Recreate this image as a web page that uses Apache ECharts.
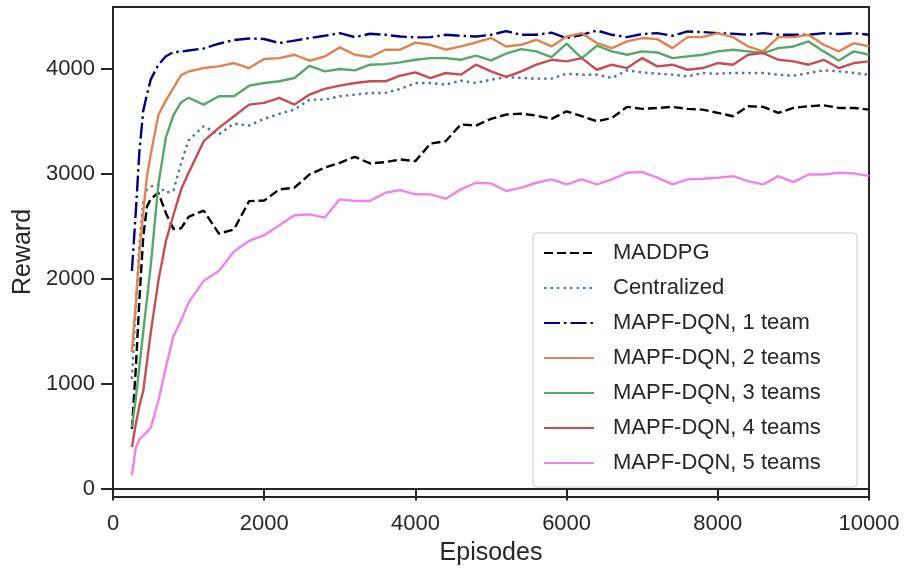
<!DOCTYPE html>
<html>
<head>
<meta charset="utf-8">
<script src="https://cdn.jsdelivr.net/npm/echarts@6/dist/echarts.min.js"></script>
<style>
  html, body { margin: 0; padding: 0; background: #fff; }
  #chart { width: 911px; height: 571px; }
</style>
</head>
<body>
<div id="chart"></div>
<script>
// episode positions shared by every curve
var episodes = [250, 300, 350, 400, 450, 500, 600, 700, 800, 900, 1000,
  1200, 1400, 1600, 1800, 2000, 2200, 2400, 2600, 2800, 3000,
  3200, 3400, 3600, 3800, 4000, 4200, 4400, 4600, 4800, 5000,
  5200, 5400, 5600, 5800, 6000, 6200, 6400, 6600, 6800, 7000,
  7200, 7400, 7600, 7800, 8000, 8200, 8400, 8600, 8800, 9000,
  9200, 9400, 9600, 9800, 10000];

var maddpg = [570, 1125, 1810, 2400, 2690, 2760, 2820, 2625, 2475, 2480, 2590,
  2650, 2430, 2470, 2740, 2745, 2852, 2868, 2994, 3058, 3105,
  3162, 3099, 3111, 3137, 3121, 3289, 3311, 3470, 3460, 3524,
  3565, 3574, 3555, 3524, 3596, 3549, 3501, 3533, 3638, 3619,
  3628, 3638, 3619, 3612, 3581, 3549, 3644, 3638, 3581, 3628,
  3644, 3653, 3628, 3628, 3612];

var centralized = [1046, 1710, 2325, 2730, 2850, 2880, 2890, 2820, 2840, 3100, 3320,
  3454, 3375, 3479, 3460, 3524, 3571, 3612, 3707, 3707, 3739,
  3755, 3771, 3771, 3809, 3866, 3866, 3850, 3888, 3866, 3897,
  3923, 3913, 3907, 3907, 3954, 3945, 3945, 3913, 3986, 3967,
  3954, 3945, 3929, 3961, 3954, 3961, 3961, 3961, 3945, 3935,
  3961, 3986, 3977, 3961, 3945];

var team1 = [2075, 2620, 3220, 3600, 3760, 3900, 4040, 4120, 4160, 4165, 4175,
  4195, 4240, 4275, 4290, 4285, 4246, 4270, 4294, 4316, 4341,
  4303, 4335, 4325, 4309, 4300, 4303, 4325, 4316, 4309, 4325,
  4360, 4325, 4325, 4345, 4294, 4325, 4366, 4325, 4303, 4332,
  4341, 4316, 4357, 4351, 4341, 4335, 4325, 4341, 4325, 4325,
  4325, 4341, 4332, 4341, 4325];

var team2 = [1300, 1750, 2250, 2640, 2978, 3190, 3560, 3700, 3820, 3940, 3975,
  4008, 4024, 4056, 4008, 4094, 4103, 4135, 4078, 4119, 4205,
  4135, 4113, 4183, 4183, 4250, 4230, 4183, 4214, 4252, 4294,
  4214, 4230, 4278, 4214, 4309, 4341, 4246, 4198, 4262, 4294,
  4284, 4198, 4303, 4303, 4341, 4303, 4214, 4167, 4303, 4303,
  4325, 4230, 4167, 4246, 4214];

var team3 = [586, 850, 1170, 1495, 1810, 2130, 2900, 3350, 3560, 3680, 3725,
  3660, 3739, 3739, 3840, 3866, 3882, 3913, 4030, 3977, 3999,
  3986, 4040, 4046, 4062, 4087, 4103, 4103, 4087, 4126, 4081,
  4145, 4189, 4167, 4113, 4240, 4103, 4221, 4167, 4135, 4167,
  4157, 4103, 4119, 4135, 4167, 4183, 4167, 4151, 4198, 4214,
  4262, 4167, 4081, 4167, 4135];

var team4 = [396, 610, 793, 930, 1210, 1490, 1980, 2360, 2610, 2850, 3010,
  3311, 3438, 3549, 3660, 3676, 3723, 3660, 3755, 3809, 3840,
  3866, 3882, 3882, 3935, 3967, 3913, 3961, 3945, 4040, 3977,
  3923, 3977, 4040, 4087, 4072, 4103, 3992, 4040, 4008, 4103,
  4024, 4040, 3992, 4008, 4056, 4040, 4135, 4151, 4087, 4072,
  4040, 4087, 4008, 4056, 4072];

var team5 = [127, 385, 470, 505, 540, 583, 835, 1162, 1453, 1600, 1775,
  1980, 2073, 2260, 2360, 2415, 2510, 2605, 2614, 2582, 2757,
  2741, 2741, 2820, 2845, 2805, 2804, 2763, 2852, 2915, 2909,
  2836, 2868, 2915, 2947, 2899, 2947, 2899, 2947, 3010, 3016,
  2963, 2899, 2947, 2953, 2963, 2978, 2931, 2899, 2978, 2921,
  2994, 2994, 3010, 3004, 2978];

var seriesNames = ['MADDPG', 'Centralized', 'MAPF-DQN, 1 team', 'MAPF-DQN, 2 teams',
  'MAPF-DQN, 3 teams', 'MAPF-DQN, 4 teams', 'MAPF-DQN, 5 teams'];

var xTicks = [0, 2000, 4000, 6000, 8000, 10000];
var yTicks = [0, 1000, 2000, 3000, 4000];

var FONT = "'Liberation Sans', Arial, sans-serif";
var INK = '#262626';

function pairs(vals) {
  return episodes.map(function (e, i) { return [e, vals[i]]; });
}

function mkLine(name, vals, color, type) {
  return {
    name: name,
    type: 'line',
    symbol: 'none',
    showSymbol: false,
    animation: false,
    lineStyle: { color: color, width: 2.4, type: type },
    itemStyle: { color: color },
    data: pairs(vals)
  };
}

function plain(v) { return String(v); }

var chart = echarts.init(document.getElementById('chart'));

var option = {
  animation: false,
  backgroundColor: '#fff',
  textStyle: { fontFamily: FONT, color: INK },
  grid: {
    left: 113, right: 42, top: 7, bottom: 72,
    show: true, borderColor: INK, borderWidth: 2, backgroundColor: 'transparent'
  },
  legend: {
    orient: 'vertical',
    left: 533, top: 233,
    padding: [8, 12, 12, 10],
    itemWidth: 50,
    itemHeight: 14,
    itemGap: 11,
    backgroundColor: 'rgba(255,255,255,0.85)',
    borderColor: '#cccccc',
    borderWidth: 1,
    borderRadius: 4,
    itemStyle: { opacity: 0 },
    lineStyle: { width: 2, opacity: 1 },
    textStyle: {
      fontFamily: FONT, fontSize: 22, color: INK,
      lineHeight: 24, width: 232, padding: [0, 0, 0, 14]
    },
    data: seriesNames
  },
  xAxis: {
    type: 'value',
    min: 0, max: 10000,
    name: 'Episodes',
    nameLocation: 'middle',
    nameGap: 44,
    nameTextStyle: { fontFamily: FONT, fontSize: 25, color: INK },
    axisLine: { show: true, lineStyle: { color: INK, width: 2 } },
    axisTick: { show: true, length: 12, lineStyle: { color: INK, width: 2 }, customValues: xTicks },
    axisLabel: { fontFamily: FONT, fontSize: 22, color: INK, margin: 16, customValues: xTicks, formatter: plain },
    splitLine: { show: false }
  },
  yAxis: {
    type: 'value',
    min: -80, max: 4590,
    name: 'Reward',
    nameLocation: 'middle',
    nameGap: 72,
    nameTextStyle: { fontFamily: FONT, fontSize: 25, color: INK },
    axisLine: { show: true, lineStyle: { color: INK, width: 2 } },
    axisTick: { show: true, length: 12, lineStyle: { color: INK, width: 2 }, customValues: yTicks },
    axisLabel: { fontFamily: FONT, fontSize: 22, color: INK, margin: 18, customValues: yTicks, formatter: plain },
    splitLine: { show: false }
  },
  series: [
    mkLine(seriesNames[0], maddpg, '#000000', [9, 4]),
    mkLine(seriesNames[1], centralized, '#4c72b0', [2.5, 4]),
    mkLine(seriesNames[2], team1, '#000080', [16, 4, 2.5, 4]),
    mkLine(seriesNames[3], team2, '#dd8452', 'solid'),
    mkLine(seriesNames[4], team3, '#55a868', 'solid'),
    mkLine(seriesNames[5], team4, '#c44e52', 'solid'),
    mkLine(seriesNames[6], team5, '#ee82ee', 'solid')
  ]
};

chart.setOption(option);
</script>
</body>
</html>
